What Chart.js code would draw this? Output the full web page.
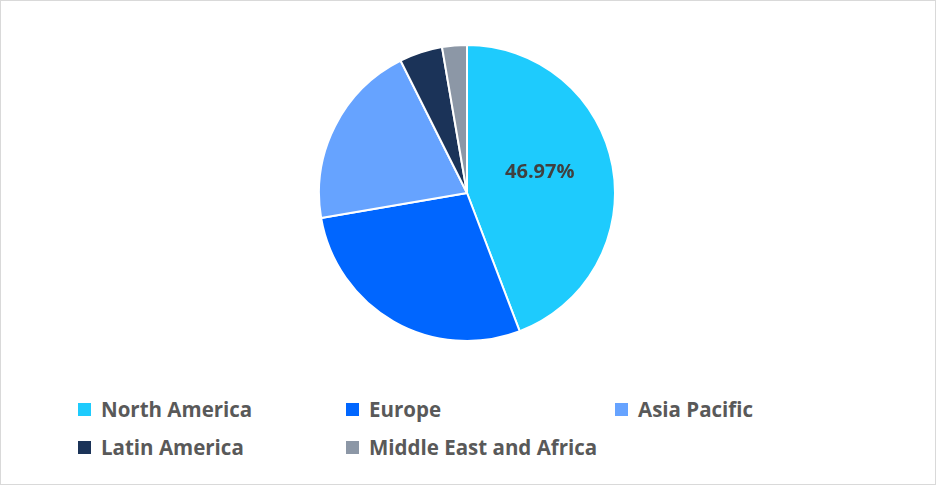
<!DOCTYPE html>
<html><head><meta charset="utf-8">
<script src="https://cdn.jsdelivr.net/npm/chart.js@4/dist/chart.umd.min.js"></script>
<style>
body{margin:0;background:#fff;font-family:"Open Sans",sans-serif}
#frame{position:absolute;left:0;top:0;width:934px;height:483px;border:1px solid #d9d9d9}
#cw{position:absolute;left:318px;top:44px;width:298px;height:298px}
.lg{position:absolute;font-weight:bold;font-size:20.5px;color:#595959;white-space:nowrap}
.lg span{display:inline-block;width:13px;height:13px;margin-right:10px;vertical-align:1px}
</style></head><body>
<div id="frame"></div>
<div id="cw"><canvas id="c"></canvas></div>
<div id="legend"></div>
<script>
const categories=["North America","Europe","Asia Pacific","Latin America","Middle East and Africa"];
const values=[44.2,28.1,20.3,4.7,2.7];
const sliceLabels=["46.97%","","","",""];
const colors=["#1ecbfd","#0066ff","#66a3ff","#1b3358","#8c97a6"];
const legendPos=[[78,395],[346,395],[615,395],[78,433],[346,433]];
const lg=document.getElementById('legend');
categories.forEach((c,i)=>{const d=document.createElement('div');d.className='lg';d.style.left=legendPos[i][0]+'px';d.style.top=legendPos[i][1]+'px';d.innerHTML='<span style="background:'+colors[i]+'"></span>'+c;lg.appendChild(d);});
const labelPlugin={id:'lbl',afterDatasetsDraw(ch){const ctx=ch.ctx;ctx.save();ctx.font='bold 20px "Open Sans"';ctx.fillStyle='#404040';ctx.textAlign='center';ctx.textBaseline='middle';
ch.getDatasetMeta(0).data.forEach((a,i)=>{if(!sliceLabels[i])return;const p=a.tooltipPosition();ctx.fillText(sliceLabels[i],p.x,p.y-7);});ctx.restore();}};
new Chart(document.getElementById('c'),{type:'pie',data:{labels:categories,datasets:[{data:values,backgroundColor:colors,borderColor:'#fff',borderWidth:2}]},
options:{responsive:true,maintainAspectRatio:false,animation:false,layout:{padding:0},plugins:{legend:{display:false},tooltip:{enabled:false}}},plugins:[labelPlugin]});
</script></body></html>
